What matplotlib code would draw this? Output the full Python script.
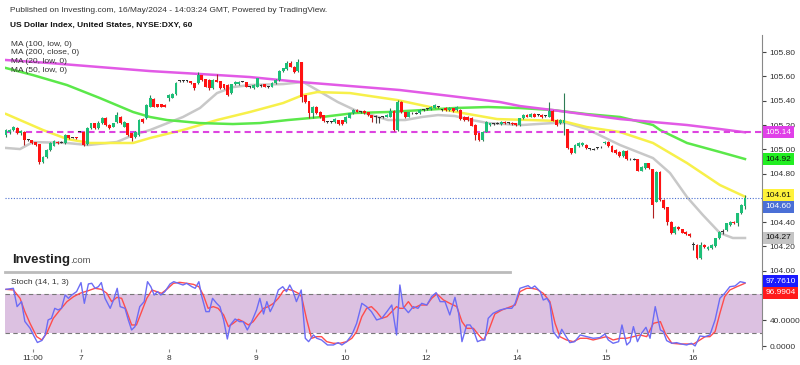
import numpy as np
import matplotlib
matplotlib.use("Agg")
from matplotlib import pyplot as plt
from matplotlib.lines import Line2D

plt.rcParams["font.family"] = ["Liberation Sans", "DejaVu Sans"]

# hourly candles, DXY
opens = [105.118, 105.140, 105.159, 105.178, 105.131, 105.145, 105.077, 105.077, 105.057, 105.041,
         104.898, 104.939, 104.994, 105.030, 105.063, 105.057, 105.049, 105.118, 105.096, 105.104,
         105.145, 105.145, 105.041, 105.178, 105.214, 105.178, 105.214, 105.260, 105.200, 105.186,
         105.227, 105.269, 105.186, 105.214, 105.131, 105.104, 105.118, 105.249, 105.255, 105.351,
         105.414, 105.370, 105.370, 105.365, 105.419, 105.425, 105.452, 105.562, 105.562, 105.562,
         105.562, 105.543, 105.543, 105.611, 105.578, 105.570, 105.502, 105.570, 105.562, 105.535,
         105.529, 105.461, 105.535, 105.535, 105.557, 105.552, 105.515, 105.502, 105.515, 105.524,
         105.535, 105.515, 105.515, 105.543, 105.570, 105.644, 105.661, 105.707, 105.680, 105.644,
         105.716, 105.447, 105.397, 105.296, 105.351, 105.310, 105.282, 105.227, 105.227, 105.227,
         105.241, 105.241, 105.227, 105.260, 105.296, 105.323, 105.310, 105.315, 105.304, 105.282,
         105.269, 105.260, 105.269, 105.269, 105.269, 105.315, 105.159, 105.390, 105.304, 105.269,
         105.296, 105.296, 105.296, 105.323, 105.332, 105.332, 105.343, 105.351, 105.323, 105.343,
         105.323, 105.337, 105.323, 105.323, 105.269, 105.269, 105.260, 105.200, 105.131, 105.077,
         105.145, 105.200, 105.206, 105.214, 105.206, 105.227, 105.214, 105.219, 105.214, 105.200,
         105.255, 105.282, 105.269, 105.291, 105.282, 105.282, 105.274, 105.269, 105.318, 105.241,
         105.214, 105.214, 105.164, 105.008, 104.972, 105.027, 105.035, 105.035, 105.000, 105.000,
         105.008, 105.016, 105.049, 105.063, 105.027, 104.994, 104.981, 104.945, 104.986, 104.917,
         104.917, 104.917, 104.824, 104.843, 104.884, 104.835, 104.569, 104.816, 104.583, 104.522,
         104.404, 104.308, 104.363, 104.341, 104.322, 104.303, 104.212, 104.212, 104.103, 104.212,
         104.177, 104.185, 104.204, 104.267, 104.322, 104.336, 104.377, 104.404, 104.391, 104.473,
         104.534]
highs = [105.170, 105.170, 105.194, 105.185, 105.160, 105.150, 105.085, 105.080, 105.060, 105.045,
         104.945, 105.000, 105.060, 105.080, 105.070, 105.065, 105.125, 105.120, 105.100, 105.105,
         105.150, 105.150, 105.180, 105.220, 105.220, 105.230, 105.270, 105.265, 105.205, 105.220,
         105.304, 105.275, 105.235, 105.220, 105.135, 105.150, 105.250, 105.255, 105.370, 105.447,
         105.420, 105.375, 105.375, 105.370, 105.452, 105.460, 105.550, 105.570, 105.570, 105.570,
         105.565, 105.545, 105.639, 105.615, 105.580, 105.575, 105.575, 105.617, 105.565, 105.540,
         105.535, 105.540, 105.560, 105.560, 105.565, 105.555, 105.520, 105.535, 105.590, 105.540,
         105.540, 105.520, 105.550, 105.575, 105.650, 105.670, 105.727, 105.727, 105.685, 105.743,
         105.720, 105.450, 105.400, 105.355, 105.355, 105.315, 105.285, 105.235, 105.235, 105.255,
         105.245, 105.245, 105.275, 105.300, 105.330, 105.330, 105.318, 105.320, 105.308, 105.285,
         105.280, 105.270, 105.278, 105.290, 105.343, 105.320, 105.406, 105.395, 105.310, 105.310,
         105.305, 105.305, 105.330, 105.330, 105.340, 105.358, 105.372, 105.360, 105.330, 105.348,
         105.350, 105.342, 105.358, 105.328, 105.274, 105.274, 105.265, 105.205, 105.136, 105.150,
         105.233, 105.220, 105.214, 105.222, 105.233, 105.232, 105.222, 105.224, 105.218, 105.260,
         105.288, 105.288, 105.296, 105.296, 105.290, 105.288, 105.282, 105.392, 105.322, 105.246,
         105.246, 105.461, 105.170, 105.012, 105.040, 105.060, 105.060, 105.040, 105.008, 105.008,
         105.016, 105.024, 105.068, 105.068, 105.032, 104.999, 104.986, 104.992, 104.991, 104.925,
         104.925, 104.922, 104.862, 104.890, 104.889, 104.840, 104.821, 104.821, 104.588, 104.527,
         104.409, 104.368, 104.368, 104.346, 104.327, 104.308, 104.240, 104.217, 104.240, 104.217,
         104.204, 104.217, 104.272, 104.327, 104.340, 104.396, 104.409, 104.409, 104.478, 104.547,
         104.620]
lows = [105.100, 105.130, 105.150, 105.125, 105.120, 105.035, 105.065, 105.040, 105.030, 104.876,
        104.890, 104.930, 104.990, 105.025, 105.045, 105.050, 105.045, 105.085, 105.090, 105.085,
        105.140, 105.030, 105.035, 105.170, 105.170, 105.170, 105.210, 105.195, 105.170, 105.180,
        105.220, 105.210, 105.180, 105.110, 105.070, 105.095, 105.110, 105.220, 105.250, 105.345,
        105.345, 105.345, 105.345, 105.345, 105.400, 105.420, 105.450, 105.555, 105.555, 105.555,
        105.540, 105.490, 105.535, 105.565, 105.510, 105.490, 105.495, 105.550, 105.495, 105.495,
        105.440, 105.455, 105.530, 105.530, 105.550, 105.510, 105.505, 105.495, 105.510, 105.515,
        105.510, 105.505, 105.510, 105.540, 105.565, 105.640, 105.655, 105.675, 105.630, 105.640,
        105.392, 105.385, 105.255, 105.255, 105.290, 105.260, 105.225, 105.220, 105.220, 105.220,
        105.200, 105.200, 105.220, 105.255, 105.290, 105.305, 105.302, 105.290, 105.275, 105.227,
        105.214, 105.214, 105.260, 105.262, 105.262, 105.150, 105.152, 105.300, 105.260, 105.262,
        105.290, 105.290, 105.290, 105.315, 105.325, 105.325, 105.338, 105.344, 105.315, 105.318,
        105.318, 105.310, 105.318, 105.244, 105.236, 105.236, 105.189, 105.077, 105.072, 105.072,
        105.140, 105.195, 105.200, 105.208, 105.200, 105.208, 105.208, 105.200, 105.194, 105.195,
        105.250, 105.263, 105.263, 105.263, 105.275, 105.258, 105.268, 105.263, 105.230, 105.195,
        105.208, 105.118, 105.003, 104.960, 104.966, 105.022, 105.030, 105.003, 104.994, 104.994,
        105.002, 105.010, 105.044, 105.022, 104.976, 104.962, 104.940, 104.940, 104.912, 104.910,
        104.910, 104.819, 104.819, 104.838, 104.838, 104.432, 104.564, 104.578, 104.509, 104.377,
        104.303, 104.303, 104.336, 104.309, 104.298, 104.281, 104.170, 104.094, 104.098, 104.188,
        104.170, 104.180, 104.199, 104.262, 104.300, 104.331, 104.372, 104.386, 104.370, 104.468,
        104.510]
closes = [105.159, 105.159, 105.186, 105.131, 105.151, 105.077, 105.075, 105.049, 105.035, 104.898,
          104.939, 104.994, 105.049, 105.068, 105.049, 105.055, 105.118, 105.090, 105.094, 105.090,
          105.143, 105.035, 105.173, 105.214, 105.178, 105.214, 105.260, 105.200, 105.178, 105.214,
          105.282, 105.214, 105.227, 105.118, 105.090, 105.145, 105.241, 105.227, 105.365, 105.419,
          105.351, 105.351, 105.351, 105.351, 105.447, 105.452, 105.543, 105.560, 105.560, 105.560,
          105.543, 105.502, 105.611, 105.570, 105.515, 105.502, 105.570, 105.557, 105.502, 105.502,
          105.447, 105.535, 105.557, 105.557, 105.555, 105.515, 105.513, 105.529, 105.584, 105.522,
          105.515, 105.513, 105.543, 105.570, 105.644, 105.666, 105.707, 105.680, 105.639, 105.721,
          105.433, 105.392, 105.296, 105.351, 105.296, 105.269, 105.233, 105.229, 105.225, 105.249,
          105.206, 105.206, 105.269, 105.296, 105.323, 105.310, 105.312, 105.296, 105.282, 105.255,
          105.267, 105.262, 105.267, 105.282, 105.315, 105.159, 105.392, 105.310, 105.269, 105.304,
          105.298, 105.294, 105.323, 105.325, 105.330, 105.351, 105.365, 105.353, 105.321, 105.323,
          105.343, 105.315, 105.351, 105.249, 105.241, 105.241, 105.194, 105.118, 105.077, 105.145,
          105.227, 105.214, 105.208, 105.212, 105.227, 105.214, 105.216, 105.206, 105.200, 105.255,
          105.282, 105.269, 105.291, 105.269, 105.280, 105.263, 105.276, 105.318, 105.236, 105.200,
          105.241, 105.241, 105.008, 104.972, 105.035, 105.055, 105.055, 105.008, 105.002, 104.998,
          105.010, 105.018, 105.063, 105.027, 104.981, 104.967, 104.945, 104.986, 104.917, 104.919,
          104.915, 104.824, 104.857, 104.884, 104.843, 104.542, 104.816, 104.583, 104.514, 104.404,
          104.308, 104.363, 104.341, 104.314, 104.303, 104.286, 104.214, 104.103, 104.212, 104.193,
          104.199, 104.212, 104.267, 104.322, 104.320, 104.391, 104.404, 104.391, 104.473, 104.542,
          104.600]

# moving averages (candle index, value)
ma200_x = [0, 11.9, 25.4, 39.0, 52.5, 66.0, 79.6, 93.1, 106.6, 120.2, 133.7, 139.1, 148.0, 166.2, 184.3, 193.2, 200]
ma200 = [105.735, 105.710, 105.677, 105.644, 105.620, 105.595, 105.554, 105.521, 105.488, 105.439,
         105.389, 105.356, 105.323, 105.249, 105.200, 105.167, 105.14]
ma100_x = [0, 7.3, 16.5, 25.4, 34.4, 39.0, 43.6, 52.5, 61.4, 68.7, 76.3, 85.5, 94.4, 103.4, 112.6,
           121.5, 130.5, 139.1, 148.0, 157.2, 166.2, 175.1, 177.0, 184.3, 193.2, 200]
ma100 = [105.669, 105.611, 105.529, 105.422, 105.307, 105.266, 105.241, 105.216, 105.208, 105.216,
         105.241, 105.266, 105.299, 105.307, 105.323, 105.340, 105.348, 105.340, 105.323, 105.290,
         105.266, 105.200, 105.159, 105.052, 104.978, 104.92]
ma50_x = [0, 10.0, 16.5, 22.7, 34.4, 39.0, 47.9, 57.1, 66.0, 75.0, 80.4, 84.2, 93.1, 96.6, 105.8,
          114.8, 123.7, 132.9, 141.8, 150.7, 157.2, 166.2, 175.1, 184.3, 193.2, 200]
ma50 = [105.291, 105.159, 105.085, 105.052, 105.052, 105.093, 105.159, 105.241, 105.307, 105.381,
        105.447, 105.471, 105.463, 105.447, 105.406, 105.348, 105.298, 105.249, 105.241, 105.232,
        105.183, 105.142, 105.052, 104.887, 104.706, 104.61]
ma20_x = [0, 3.8, 7.3, 16.5, 22.2, 30.0, 34.4, 39.0, 47.9, 52.5, 57.1, 61.4, 66.0, 75.0, 80.4, 84.2,
          89.8, 94.4, 99.0, 103.4, 108.0, 112.6, 116.9, 121.5, 126.1, 130.5, 139.6, 148.0, 151.8,
          157.2, 166.2, 175.1, 179.7, 184.3, 188.6, 193.2, 196.7, 200]
ma20 = [105.011, 105.002, 105.060, 105.052, 105.035, 105.060, 105.117, 105.159, 105.266, 105.340,
        105.463, 105.512, 105.529, 105.537, 105.554, 105.488, 105.389, 105.323, 105.282, 105.241,
        105.241, 105.266, 105.282, 105.274, 105.241, 105.216, 105.200, 105.216, 105.216, 105.167,
        105.035, 104.928, 104.805, 104.607, 104.459, 104.311, 104.270, 104.27]

# stochastic (14, 1, 3)
k_x = [0, 2.0, 3.0, 4.2, 5.1, 6.5, 7.4, 8.5, 9.7, 10.6, 11.4, 12.3, 13.2, 14.1, 15.0, 16.0, 16.9,
       17.8, 19.1, 20.3, 21.2, 22.3, 23.2, 24.1, 25.0, 25.8, 26.8, 28.2, 29.1, 30.1, 30.9, 32.2,
       33.1, 34.0, 34.9, 36.2, 37.4, 38.3, 39.2, 40.1, 41.0, 41.9, 43.0, 44.4, 45.4, 46.6, 47.9,
       48.9, 50.3, 51.2, 52.2, 53.0, 54.1, 55.0, 55.9, 57.0, 57.9, 58.9, 59.9, 60.7, 62.0, 63.2,
       64.2, 65.3, 66.5, 67.8, 68.7, 69.7, 70.6, 71.5, 72.4, 73.7, 74.9, 75.9, 76.8, 77.7, 78.6,
       79.9, 81.0, 81.9, 83.2, 84.1, 85.4, 87.0, 88.6, 89.9, 90.9, 92.2, 93.6, 94.9, 96.3, 97.6,
       98.9, 100.3, 101.7, 103.1, 104.4, 105.7, 106.6, 107.5, 108.9, 110.2, 111.5, 112.5, 113.9,
       115.2, 116.4, 117.5, 118.8, 120.1, 121.5, 122.5, 123.4, 124.7, 125.6, 126.5, 127.6, 128.7,
       129.6, 130.5, 131.8, 133.7, 135.5, 136.9, 137.8, 139.1, 140.4, 141.3, 142.2, 143.1, 144.6,
       145.4, 146.4, 147.2, 148.1, 149.5, 150.4, 151.3, 152.6, 153.9, 155.4, 157.2, 158.9, 160.7,
       162.1, 163.0, 164.3, 165.8, 166.7, 168.0, 168.9, 169.8, 170.9, 172.0, 173.2, 174.3, 175.7,
       177.1, 177.9, 178.8, 180.2, 181.5, 182.8, 184.2, 185.5, 186.5, 187.8, 189.2, 190.5, 191.9,
       193.2, 194.5, 195.9, 197.3, 198.7, 200]
k_val = [87.6, 89.2, 61.0, 68.7, 38.2, 27.9, 17.6, 5.8, 8.9, 17.4, 40.5, 43.0, 58.4, 55.9, 58.4,
         78.9, 73.8, 78.9, 84.1, 98.0, 66.1, 95.9, 96.9, 89.2, 91.7, 98.0, 73.8, 58.4, 71.2, 89.2,
         61.0, 58.4, 40.5, 25.1, 30.2, 61.0, 68.7, 99.4, 91.7, 78.9, 84.1, 78.9, 84.1, 95.9, 99.4,
         96.9, 94.3, 96.9, 91.7, 89.2, 99.4, 76.4, 53.3, 53.3, 73.8, 66.1, 61.0, 40.5, 11.2, 32.8,
         42.0, 37.9, 37.9, 25.1, 37.9, 55.8, 73.8, 49.7, 68.7, 53.3, 63.5, 86.6, 91.7, 84.1, 94.3,
         84.1, 68.7, 86.6, 12.3, 7.1, 17.4, 12.3, 9.7, 2.0, 2.0, 5.6, 2.0, 7.1, 17.4, 35.3, 66.1,
         61.0, 53.3, 40.5, 43.0, 53.3, 63.5, 17.4, 94.3, 61.0, 51.7, 61.0, 58.4, 66.1, 63.5, 76.4,
         82.5, 68.7, 68.7, 48.2, 75.3, 50.7, 7.1, 32.8, 32.8, 25.1, 7.1, 9.7, 9.7, 43.0, 50.7, 55.8,
         58.4, 58.4, 66.1, 89.2, 91.7, 93.3, 89.2, 92.8, 84.1, 71.2, 73.8, 66.1, 22.5, 12.3, 26.1,
         17.4, 5.6, 7.1, 17.4, 14.8, 12.3, 13.3, 18.9, 9.7, 4.6, 7.1, 32.8, 2.0, 7.1, 30.2, 7.1,
         19.9, 29.2, 12.3, 61.0, 25.1, 22.5, 8.7, 4.6, 5.6, 3.5, 2.0, 4.6, 0.5, 15.8, 14.8, 17.4,
         40.5, 73.8, 81.5, 91.7, 92.8, 99.4, 97.761]
d_x = [0, 2.0, 3.8, 5.1, 6.5, 8.3, 9.7, 11.0, 12.8, 14.6, 16.5, 18.3, 20.0, 22.3, 24.1, 25.8, 27.3,
       28.6, 30.0, 31.3, 32.7, 34.0, 35.3, 36.7, 38.1, 39.5, 40.8, 42.1, 43.5, 45.3, 47.0, 48.9,
       50.7, 52.2, 53.4, 54.7, 56.1, 57.4, 58.9, 60.2, 61.5, 62.9, 64.2, 65.6, 66.9, 68.2, 69.7,
       71.0, 72.4, 73.7, 75.1, 76.4, 77.7, 79.1, 80.0, 81.4, 82.7, 84.1, 85.4, 86.8, 88.6, 90.4,
       92.2, 93.6, 94.9, 96.3, 97.6, 98.9, 100.3, 101.7, 103.1, 104.4, 105.7, 106.6, 107.5, 108.9,
       110.2, 112.1, 113.9, 115.2, 116.6, 118.4, 120.1, 122.0, 123.4, 124.7, 126.5, 128.3, 129.2,
       130.5, 132.3, 134.2, 135.9, 137.8, 139.1, 140.9, 142.2, 143.7, 145.4, 147.2, 148.6, 149.9,
       151.7, 153.5, 155.4, 157.2, 158.9, 160.7, 162.5, 164.3, 166.2, 168.0, 169.8, 171.6, 173.4,
       175.2, 177.1, 178.4, 180.2, 182.4, 184.2, 186.1, 187.8, 189.2, 190.5, 191.9, 193.2, 194.5,
       195.9, 197.8, 200]
d_val = [87.6, 86.6, 73.8, 53.3, 35.3, 14.8, 9.7, 19.9, 43.0, 55.8, 68.7, 76.4, 81.5, 85.6, 89.2,
         87.6, 81.5, 68.7, 75.3, 73.8, 53.3, 32.8, 32.8, 53.3, 73.8, 86.6, 84.1, 81.5, 87.6, 96.9,
         98.4, 96.9, 95.3, 91.7, 78.9, 58.4, 61.0, 58.4, 48.2, 30.2, 35.3, 41.5, 37.9, 32.8, 37.9,
         48.2, 58.4, 61.0, 66.1, 73.8, 85.6, 87.6, 85.6, 81.5, 76.4, 40.5, 12.3, 14.8, 14.8, 7.1,
         4.6, 4.6, 7.1, 12.3, 22.5, 45.6, 58.4, 61.0, 53.3, 43.0, 45.6, 53.3, 61.0, 58.4, 58.4, 68.7,
         58.4, 63.5, 63.5, 73.8, 80.5, 71.2, 66.1, 61.0, 37.9, 27.6, 27.6, 14.8, 9.7, 22.5, 49.7,
         55.8, 59.4, 63.5, 84.1, 89.2, 89.2, 87.6, 81.5, 68.7, 35.3, 14.8, 9.7, 7.1, 12.3, 12.3, 9.7,
         12.3, 14.8, 9.7, 12.3, 12.3, 14.8, 17.4, 14.8, 35.3, 37.9, 19.9, 4.6, 3.5, 3.5, 3.5, 9.7,
         14.8, 14.8, 22.5, 50.7, 76.4, 86.6, 91.7, 96.9904]

tick_pos = [7.3, 20.3, 44.1, 67.7, 91.7, 113.7, 138.3, 162.4, 185.9]
tick_lab = ["11:00", "7", "8", "9", "10", "12", "14", "15", "16"]

W, H = 800, 365
FS = 6.0


def rect(l, t, r, b):
    return [l / W, 1 - b / H, (r - l) / W, (b - t) / H]


fig = plt.figure(figsize=(8, 3.65), dpi=100)
fig.patch.set_facecolor("white")
ax = fig.add_axes(rect(5, 35, 762, 272))
axs = fig.add_axes(rect(5, 272, 762, 349))

o = np.array(opens); c = np.array(closes)
hi = np.array(highs); lo = np.array(lows)
x = np.arange(len(c))
up = c > o + 0.003
dn = c < o - 0.003
col = np.where(up, "#1dbf78", np.where(dn, "#ff1212", "#333333"))
wick = np.where(up, "#2e7d55", np.where(dn, "#b02020", "#444444"))

# moving averages
ax.plot(ma20_x, ma20, color="#c8c8c8", lw=1.8, zorder=1)
ax.plot(ma50_x, ma50, color="#f7f04a", lw=1.8, zorder=1)
ax.plot(ma100_x, ma100, color="#5be84a", lw=1.8, zorder=1)
ax.plot(ma200_x, ma200, color="#e25ae6", lw=1.8, zorder=1)
ax.axhline(105.14, color="#dd44e0", lw=1.5, ls=(0, (3, 2)), zorder=1)
ax.axhline(104.60, color="#4a6fd0", lw=0.8, ls=(0, (1, 1.5)), zorder=1)

ax.vlines(x, lo, hi, color=wick, lw=0.8, zorder=2)
body_lo = np.minimum(o, c)
body_h = np.maximum(np.abs(c - o), 0.007)
ax.bar(x, body_h, bottom=body_lo, width=0.78, color=col, zorder=3, linewidth=0)

ax.set_xlim(-0.27, 204.6)
ax.set_ylim(103.990, 105.941)
ax.yaxis.tick_right()
price_ticks = [104.0, 104.2, 104.4, 104.6, 104.8, 105.0, 105.2, 105.4, 105.6, 105.8]
ax.set_yticks(price_ticks)
# 104.60 sits under the live price tags
ax.set_yticklabels(["" if v == 104.6 else f"{v:.2f}" for v in price_ticks])
ax.tick_params(axis="y", labelsize=FS, length=3, pad=2.5, colors="#444444", labelcolor="#333333")
ax.set_xticks([])
for s in ["top", "left", "bottom"]:
    ax.spines[s].set_visible(False)
ax.spines["right"].set_color("#888888")

# price tags
tags = [(105.14, "105.14", "#e040e8", "white", 0),
        (104.92, "104.92", "#22ee22", "#111111", 0),
        (104.61, "104.61", "#fff23a", "#111111", 1),
        (104.60, "104.60", "#4a6fd6", "white", -6.5),
        (104.27, "104.27", "#c4c4c4", "#111111", 0)]
for val, lab, fc, tc, dy in tags:
    ax.annotate(lab, xy=(1, val), xycoords=ax.get_yaxis_transform(), xytext=(2.5, dy),
                textcoords="offset points", va="center", ha="left", fontsize=FS,
                color=tc, annotation_clip=False,
                bbox=dict(boxstyle="square,pad=0.3", fc=fc, ec="none"))

# stochastic panel
axs.axhspan(20, 80, color="#dcc1e1", zorder=0, lw=0)
axs.axhline(20, color="#777777", lw=0.8, ls=(0, (4, 3)), zorder=1)
axs.axhline(80, color="#777777", lw=0.8, ls=(0, (4, 3)), zorder=1)
axs.plot(k_x, k_val, color="#6c6cf5", lw=1.0, zorder=3)
axs.plot(d_x, d_val, color="#ff4c4c", lw=1.0, zorder=2)
axs.set_xlim(-0.27, 204.6)
axs.set_ylim(-4.2, 114.3)
axs.yaxis.tick_right()
axs.set_yticks([0, 40, 80])
axs.set_yticklabels(["0.0000", "40.0000", ""])
axs.tick_params(axis="y", labelsize=FS, length=3, pad=2.5, colors="#444444", labelcolor="#333333")
axs.set_xticks(tick_pos)
axs.set_xticklabels(tick_lab)
axs.tick_params(axis="x", labelsize=FS, length=2, pad=2, colors="#888888", labelcolor="#333333")
for s in ["top", "left", "bottom"]:
    axs.spines[s].set_visible(False)
axs.spines["right"].set_color("#888888")
axs.patch.set_alpha(0)

for val, lab, fc, dy in [(97.761, "97.7610", "#1a1aff", 1), (96.9904, "96.9904", "#ff1a1a", -7)]:
    axs.annotate(lab, xy=(1, val), xycoords=axs.get_yaxis_transform(), xytext=(2.5, dy),
                 textcoords="offset points", va="center", ha="left", fontsize=FS,
                 color="white", annotation_clip=False,
                 bbox=dict(boxstyle="square,pad=0.3", fc=fc, ec="none"))

fig.add_artist(Line2D([5 / W, 510 / W], [1 - 272 / H] * 2, color="#bbbbbb", lw=2))

# header texts
fig.text(10 / W, 1 - 10 / H, "Published on Investing.com, 16/May/2024 - 14:03:24 GMT, Powered by TradingView.",
         fontsize=FS, va="center", color="#333333")
fig.text(10 / W, 1 - 25 / H, "US Dollar Index, United States, NYSE:DXY, 60",
         fontsize=FS, va="center", weight="bold", color="#111111")
for yy, lab in [(45, "MA (100, low, 0)"), (53, "MA (200, close, 0)"),
                (61.5, "MA (20, low, 0)"), (70, "MA (50, low, 0)")]:
    fig.text(11 / W, 1 - yy / H, lab, fontsize=FS, va="center", color="#333333")

logo = fig.text(12 / W, 1 - 263 / H, "Investing", fontsize=9.5, weight="bold",
                va="baseline", color="#222222")
fig.canvas.draw()
bb = logo.get_window_extent()
fig.text(bb.x1 / W + 0.5 / W, 1 - 263 / H, ".com", fontsize=6.8, va="baseline", color="#555555")
fig.text(11 / W, 1 - 283 / H, "Stoch (14, 1, 3)", fontsize=FS, va="center", color="#333333")

fig.savefig("out.png", dpi=100)
